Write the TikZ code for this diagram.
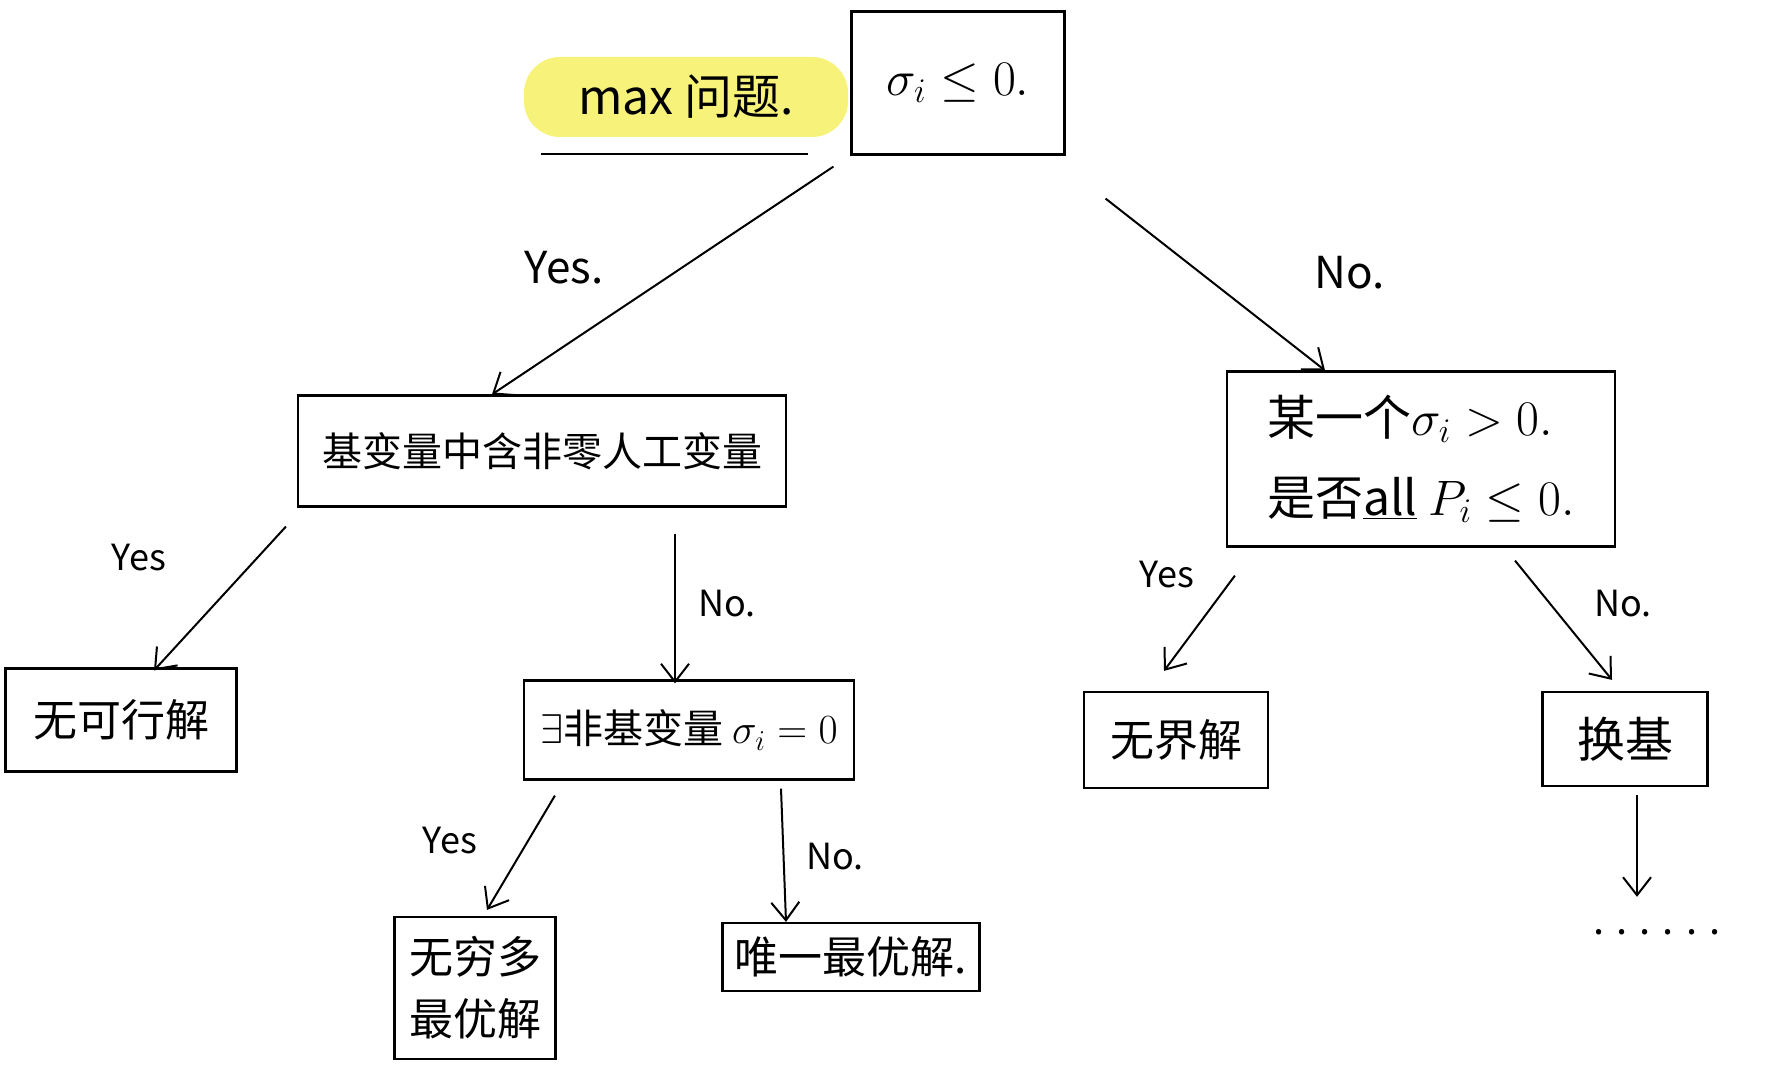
\documentclass[tikz,border=0pt]{standalone}
\usepackage{fontspec}
\setmainfont{Noto Sans CJK SC}
\usetikzlibrary{arrows.meta,calc}
\definecolor{hilite}{RGB}{246,242,122}

\begin{document}
\begin{tikzpicture}[x=0.5pt,y=-0.5pt,
    >={Straight Barb[length=9pt,width=14pt]},
    every node/.style={inner sep=0pt},
    box/.style={draw,line width=1.1pt},
    arr/.style={->,line width=1pt},
    lbl/.style={font=\fontsize{18}{20}\selectfont},
    cjk/.style={font=\fontsize{22}{31}\selectfont},
]
    \useasboundingbox (0,0) rectangle (1786,1080);

    % the question and the first test
    \node[fill=hilite,rounded corners=18pt,
        minimum width=162pt,minimum height=40pt,
        font=\fontsize{24}{28}\selectfont]
        (maxq) at (686,97) {max\ 问题.};
    \draw[line width=1.1pt]
        ($(maxq.south west)+(17,17)$) -- ($(maxq.south east)+(-40,17)$);
    \node[box,minimum width=106.5pt,minimum height=71.5pt,
        font=\fontsize{26}{30}\selectfont]
        (cond) at (958,83) {$\sigma_i\leq 0.$};

    % second level
    \node[box,cjk,minimum width=244pt,minimum height=55.5pt,
        font=\fontsize{20}{24}\selectfont]
        (artif) at (542,451) {基变量中含非零人工变量};
    \node[box,align=left,minimum width=194pt,minimum height=87.5pt,
        font=\fontsize{24}{40}\selectfont]
        (pos) at (1421,459) {某一个$\sigma_i>0.$\\是否\underline{all}\ $P_i\leq 0.$};

    % third level
    \node[box,cjk,minimum width=115.5pt,minimum height=51.5pt]
        (infeas) at (121,720) {无可行解};
    \node[box,minimum width=165pt,minimum height=49.5pt,
        font=\fontsize{20}{24}\selectfont]
        (exists) at (689,730) {$\exists$非基变量\ $\sigma_i=0$};
    \node[box,cjk,minimum width=92pt,minimum height=48pt]
        (unb) at (1176,740) {无界解};
    \node[box,minimum width=82.5pt,minimum height=47pt,
        font=\fontsize{24}{28}\selectfont]
        (pivot) at (1625,739) {换基};

    % last level
    \node[box,cjk,align=left,minimum width=80.5pt,minimum height=71pt]
        (inf) at (475,988) {无穷多\\最优解};
    \node[box,cjk,minimum width=128.5pt,minimum height=34pt]
        (unique) at (851,957) {唯一最优解.};
    \node[font=\fontsize{20}{24}\selectfont]
        (dots) at (1657,932) {. . . . . .};

    % connectors
    \draw[arr] ($(cond.south west)+(-17,11)$) -- ($(artif.north)+(-50,0)$);
    \draw[arr] ($(cond.south east)+(40,43)$) -- ($(pos.north)+(-96,0)$);
    \draw[arr] ($(artif.south west)+(-11,19)$) -- ($(infeas.north)+(33,3)$);
    \draw[arr] ($(artif.south)+(133,26)$) -- ($(exists.north)+(-14,4)$);
    \draw[arr] ($(exists.south west)+(32,15)$) -- ($(inf.north)+(12,-6)$);
    \draw[arr] ($(exists.south)+(92,8)$) -- ($(unique.north)+(-65,0)$);
    \draw[arr] ($(pos.south west)+(9,28)$) -- ($(unb.north)+(-12,-20)$);
    \draw[arr] ($(pos.south)+(94,13)$) -- ($(pivot.north)+(-13,-11)$);
    \draw[arr] ($(pivot.south)+(12,8)$) -- ($(dots.north)+(-20,-32)$);

    % branch labels
    \node[font=\fontsize{22}{24}\selectfont] (yes1) at (564,268) {Yes.};
    \node[font=\fontsize{22}{24}\selectfont] (no1) at (1350,273) {No.};
    \node[lbl] (yes2) at (139,558) {Yes};
    \node[lbl] (no2) at (727,604) {No.};
    \node[lbl] (yes3) at (450,841) {Yes};
    \node[lbl] (no3) at (835,857) {No.};
    \node[lbl] (yes4) at (1167,575) {Yes};
    \node[lbl] (no4) at (1623,604) {No.};
\end{tikzpicture}
\end{document}
